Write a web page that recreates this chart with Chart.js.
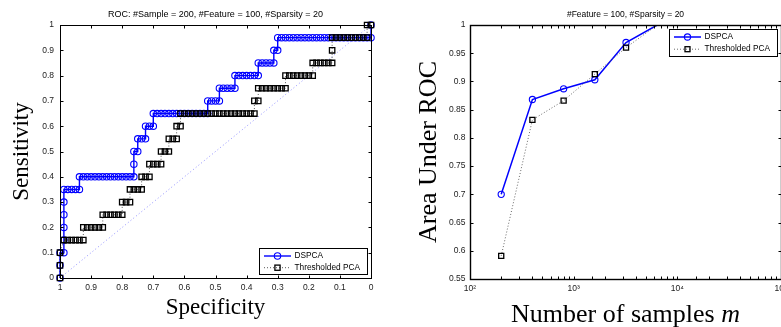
<!DOCTYPE html>
<html><head><meta charset="utf-8">
<script src="https://cdn.jsdelivr.net/npm/chart.js@4.4.1/dist/chart.umd.min.js"></script>
<style>
html,body{margin:0;padding:0;background:#fff;overflow:hidden;width:781px;height:327px;}
#a{position:absolute;left:0;top:0;width:390px;height:327px;}
#b{position:absolute;left:390px;top:0;width:430px;height:327px;}
</style></head><body>
<div id="a"><canvas id="c1" width="390" height="327"></canvas></div>
<div id="b"><canvas id="c2" width="430" height="327"></canvas></div>
<script>
// ---------- Left panel: ROC curves (sensitivity levels and the specificities visited at each level)
const dspcaLevels = [0,0.05,0.1,0.15,0.2,0.25,0.3,0.35,0.4,0.45,0.5,0.55,0.6,0.65,0.7,0.75,0.8,0.85,0.9,0.95,1];
const dspcaSpecs = [
  [1],[1],[1,0.9875],[0.9875],[0.9875],[0.9875],[0.9875],
  [0.9875,0.975,0.9625,0.95,0.9375],
  [0.9375,0.925,0.9125,0.9,0.8875,0.875,0.8625,0.85,0.8375,0.825,0.8125,0.8,0.7875,0.775,0.7625],
  [0.7625],[0.7625,0.75],[0.75,0.7375,0.725],[0.725,0.7125,0.7],
  [0.7,0.6875,0.675,0.6625,0.65,0.6375,0.625,0.6125,0.6,0.5875,0.575,0.5625,0.55,0.5375,0.525],
  [0.525,0.5125,0.5,0.4875],
  [0.4875,0.475,0.4625,0.45,0.4375],
  [0.4375,0.425,0.4125,0.4,0.3875,0.375,0.3625],
  [0.3625,0.35,0.3375,0.325,0.3125],
  [0.3125,0.3],
  [0.3,0.2875,0.275,0.2625,0.25,0.2375,0.225,0.2125,0.2,0.1875,0.175,0.1625,0.15,0.1375,0.125,0.1125,0.1,0.0875,0.075,0.0625,0.05,0.0375,0.025,0.0125,0],
  [0]
];
const tpcaLevels = [0,0.05,0.1,0.15,0.2,0.25,0.3,0.35,0.4,0.45,0.5,0.55,0.6,0.65,0.7,0.75,0.8,0.85,0.9,0.95,1];
const tpcaSpecs = [
  [1],[1],[1],
  [0.9875,0.975,0.9625,0.95,0.9375,0.925],
  [0.925,0.9125,0.9,0.8875,0.875,0.8625],
  [0.8625,0.85,0.8375,0.825,0.8125,0.8],
  [0.8,0.7875,0.775],
  [0.775,0.7625,0.75,0.7375],
  [0.7375,0.725,0.7125],
  [0.7125,0.7,0.6875,0.675],
  [0.675,0.6625,0.65],
  [0.65,0.6375,0.625],
  [0.625,0.6125],
  [0.6125,0.6,0.5875,0.575,0.5625,0.55,0.5375,0.525,0.5125,0.5,0.4875,0.475,0.4625,0.45,0.4375,0.425,0.4125,0.4,0.3875,0.375],
  [0.375,0.3625],
  [0.3625,0.35,0.3375,0.325,0.3125,0.3,0.2875,0.275],
  [0.275,0.2625,0.25,0.2375,0.225,0.2125,0.2,0.1875],
  [0.1875,0.175,0.1625,0.15,0.1375,0.125],
  [0.125],
  [0.125,0.1125,0.1,0.0875,0.075,0.0625,0.05,0.0375,0.025,0.0125],
  [0.0125,0]
];
const chanceSpec = [1,0];
const chanceSens = [0,1];

// ---------- Right panel: AUC vs number of samples
const sampleSizes = [200,400,800,1600,3200,6400];
const aucDSPCA = [0.700,0.868,0.887,0.903,0.969,1.0];
const aucTPCA  = [0.591,0.832,0.866,0.913,0.960,1.0];

const leftTitle = 'ROC: #Sample = 200, #Feature = 100, #Sparsity = 20';
const rightTitle = '#Feature = 100, #Sparsity = 20';

function stepPoints(levels, specs){
  const pts = [];
  levels.forEach((s,i)=>specs[i].forEach(x=>pts.push({x:x,y:s})));
  return pts;
}
function pairPoints(xs, ys){ return xs.map((x,i)=>({x:x,y:ys[i]})); }
const plainNum = v => String(parseFloat(Number(v).toFixed(4)));

Chart.defaults.font.family = '"Liberation Sans", Arial, sans-serif';
Chart.defaults.color = '#222';

const SANS = '"Liberation Sans", Arial, sans-serif';
const SERIF = '"Liberation Serif", "Times New Roman", serif';

const framePlugin = {
  id: 'frame',
  afterDatasetsDraw(chart, args, o) {
    const {ctx, chartArea: a} = chart;
    const xs = chart.scales.x, ys = chart.scales.y;
    const L = Math.round(a.left) + 0.5, R = Math.round(a.right) + 0.5;
    const T = Math.round(a.top) + 0.5, B = Math.round(a.bottom) + 0.5;
    ctx.save();
    ctx.strokeStyle = '#000';
    ctx.lineWidth = o.tickWidth;
    const tl = o.tickLen;
    ctx.beginPath();
    xs.ticks.forEach(t => {
      const p = Math.round(xs.getPixelForValue(t.value)) + 0.5;
      ctx.moveTo(p, B); ctx.lineTo(p, B - tl);
      ctx.moveTo(p, T); ctx.lineTo(p, T + tl);
    });
    ys.ticks.forEach(t => {
      const p = Math.round(ys.getPixelForValue(t.value)) + 0.5;
      ctx.moveTo(L, p); ctx.lineTo(L + tl, p);
      ctx.moveTo(R, p); ctx.lineTo(R - tl, p);
    });
    if (o.minorLog) {
      for (let d = Math.log10(xs.min); d < Math.log10(xs.max); d++) {
        for (let k = 2; k <= 9; k++) {
          const p = Math.round(xs.getPixelForValue(k * Math.pow(10, d))) + 0.5;
          ctx.moveTo(p, B); ctx.lineTo(p, B - o.minorLen);
          ctx.moveTo(p, T); ctx.lineTo(p, T + o.minorLen);
        }
      }
    }
    ctx.stroke();
    ctx.lineWidth = o.boxWidth;
    ctx.strokeRect(L, T, R - L, B - T);

    // legend
    const lg = o.legend;
    const bx = Math.round(a.right - lg.mr - lg.w) + 0.5;
    const by = Math.round(lg.corner === 'br' ? a.bottom - lg.mb - lg.h : a.top + lg.mt) + 0.5;
    ctx.fillStyle = '#fff';
    ctx.fillRect(bx, by, lg.w, lg.h);
    ctx.lineWidth = 1;
    ctx.strokeStyle = '#000';
    ctx.strokeRect(bx, by, lg.w, lg.h);
    lg.items.forEach((idx, i) => {
      const ds = chart.data.datasets[idx];
      const y = by + lg.row0 + i * lg.rowH;
      ctx.save();
      ctx.strokeStyle = ds.borderColor; ctx.lineWidth = ds.borderWidth;
      ctx.setLineDash(ds.borderDash || []);
      ctx.beginPath(); ctx.moveTo(bx + 4.5, y); ctx.lineTo(bx + 31.5, y); ctx.stroke();
      ctx.setLineDash([]);
      ctx.strokeStyle = ds.pointBorderColor; ctx.lineWidth = ds.pointBorderWidth;
      const mx = bx + 18;
      if (ds.pointStyle === 'circle') {
        ctx.beginPath(); ctx.arc(mx, y, lg.circleR, 0, Math.PI * 2); ctx.stroke();
      } else {
        ctx.strokeRect(mx - lg.sq / 2, y - lg.sq / 2, lg.sq, lg.sq);
      }
      ctx.fillStyle = '#000';
      ctx.font = lg.font;
      ctx.textBaseline = 'middle';
      ctx.textAlign = 'left';
      ctx.fillText(ds.label, bx + 35, y);
      ctx.restore();
    });

    if (o.xTitleParts) {
      ctx.fillStyle = '#000';
      ctx.textBaseline = 'alphabetic';
      ctx.textAlign = 'left';
      let total = 0;
      const ws = o.xTitleParts.map(p => { ctx.font = p.font; const w = ctx.measureText(p.text).width; total += w; return w; });
      let x = (a.left + a.right) / 2 - total / 2;
      o.xTitleParts.forEach((p, i) => { ctx.font = p.font; ctx.fillText(p.text, x, o.xTitleY); x += ws[i]; });
    }
    ctx.restore();
  }
};

// ---------------- Left chart
new Chart(document.getElementById('c1'), {
  type: 'scatter',
  data: {
    datasets: [
      {
        label: 'Thresholded PCA',
        data: stepPoints(tpcaLevels, tpcaSpecs),
        showLine: true,
        borderColor: 'rgba(60,60,60,0.85)', borderWidth: 1, borderDash: [1, 2],
        pointStyle: 'rect', pointRadius: 3.8, pointBorderColor: '#000', pointBorderWidth: 1.3,
        pointBackgroundColor: 'rgba(0,0,0,0)', backgroundColor: 'rgba(0,0,0,0)',
        order: 0, clip: false
      },
      {
        label: 'DSPCA',
        data: stepPoints(dspcaLevels, dspcaSpecs),
        showLine: true,
        borderColor: '#0000ff', borderWidth: 1.4,
        pointStyle: 'circle', pointRadius: 3.2, pointBorderColor: '#0000ff', pointBorderWidth: 1.1,
        pointBackgroundColor: 'rgba(0,0,0,0)', backgroundColor: 'rgba(0,0,0,0)',
        order: 1, clip: false
      },
      {
        label: 'chance',
        data: pairPoints(chanceSpec, chanceSens),
        showLine: true,
        borderColor: 'rgba(60,60,255,0.7)', borderWidth: 0.8, borderDash: [1, 2.5],
        pointRadius: 0,
        order: 2
      }
    ]
  },
  options: {
    responsive: false, animation: false, events: [],
    layout: { padding: { left: 0, right: 19, top: 0, bottom: 0 } },
    plugins: {
      legend: { display: false }, tooltip: { enabled: false },
      title: { display: true, text: leftTitle, fullSize: false, color: '#000',
               font: { family: SANS, size: 9, weight: 'normal', lineHeight: 1.2 },
               padding: { top: 9.2, bottom: 5 } },
      frame: {
        tickLen: 3, minorLen: 2, tickWidth: 1, boxWidth: 1,
        legend: { corner: 'br', w: 108, h: 26, mr: 4.5, mb: 4, row0: 7.5, rowH: 11.7,
                  circleR: 3.2, sq: 5.2, font: '8.3px ' + SANS, items: [1, 0] }
      }
    },
    scales: {
      x: {
        type: 'linear', reverse: true, min: 0, max: 1,
        ticks: { stepSize: 0.1, font: { size: 8.5 }, color: '#222', padding: 5, maxRotation: 0, autoSkip: false, callback: plainNum },
        grid: { display: false, drawTicks: false }, border: { display: false },
        title: { display: true, text: 'Specificity', color: '#000', font: { family: SERIF, size: 23, lineHeight: 1.2 }, padding: { top: 0, bottom: 5 } },
        afterFit: s => { s.height = 49; }
      },
      y: {
        min: 0, max: 1,
        ticks: { stepSize: 0.1, font: { size: 8.5 }, color: '#222', padding: 6, autoSkip: false, callback: plainNum },
        grid: { display: false, drawTicks: false }, border: { display: false },
        title: { display: true, text: 'Sensitivity', color: '#000', font: { family: SERIF, size: 23, lineHeight: 1.2 }, padding: { top: 8.4, bottom: 0 } },
        afterFit: s => { s.width = 60; }
      }
    }
  },
  plugins: [framePlugin]
});

// ---------------- Right chart
const sup = {2: '\u00B2', 3: '\u00B3', 4: '\u2074', 5: '\u2075'};
new Chart(document.getElementById('c2'), {
  type: 'scatter',
  data: {
    datasets: [
      {
        label: 'Thresholded PCA',
        data: pairPoints(sampleSizes, aucTPCA),
        showLine: true,
        borderColor: 'rgba(90,90,90,0.9)', borderWidth: 1, borderDash: [1, 2],
        pointStyle: 'rect', pointRadius: c => (c.raw && c.raw.y >= 1 ? 0 : 3.6),
        pointBorderColor: '#000', pointBorderWidth: 1.3,
        pointBackgroundColor: 'rgba(0,0,0,0)', backgroundColor: 'rgba(0,0,0,0)',
        order: 0
      },
      {
        label: 'DSPCA',
        data: pairPoints(sampleSizes, aucDSPCA),
        showLine: true,
        borderColor: '#0000ff', borderWidth: 1.5,
        pointStyle: 'circle', pointRadius: c => (c.raw && c.raw.y >= 1 ? 0 : 3.1),
        pointBorderColor: '#0000ff', pointBorderWidth: 1.1,
        pointBackgroundColor: 'rgba(0,0,0,0)', backgroundColor: 'rgba(0,0,0,0)',
        order: 1
      }
    ]
  },
  options: {
    responsive: false, animation: false, events: [],
    layout: { padding: { left: 0, right: 39, top: 0, bottom: 0 } },
    plugins: {
      legend: { display: false }, tooltip: { enabled: false },
      title: { display: true, text: rightTitle, fullSize: false, color: '#000',
               font: { family: SANS, size: 8.5, weight: 'normal', lineHeight: 1.2 },
               padding: { top: 9.8, bottom: 5 } },
      frame: {
        tickLen: 3, minorLen: 2, tickWidth: 1, boxWidth: 1.4, minorLog: true,
        legend: { corner: 'tr', w: 108, h: 27, mr: 4.5, mt: 4.3, row0: 7.5, rowH: 12.2,
                  circleR: 3.1, sq: 5, font: '8.3px ' + SANS, items: [1, 0] },
        xTitleParts: [
          { text: 'Number of samples ', font: '26px ' + SERIF },
          { text: 'm', font: 'italic 26px ' + SERIF }
        ],
        xTitleY: 322
      }
    },
    scales: {
      x: {
        type: 'logarithmic', min: 100, max: 100000,
        ticks: { font: { size: 8.5 }, color: '#222', padding: 5, maxRotation: 0, autoSkip: false,
                 callback: v => { const l = Math.log10(v); return Math.abs(l - Math.round(l)) < 1e-9 ? '10' + sup[Math.round(l)] : ''; } },
        grid: { display: false, drawTicks: false }, border: { display: false },
        afterFit: s => { s.height = 48; }
      },
      y: {
        min: 0.55, max: 1,
        ticks: { stepSize: 0.05, font: { size: 8.5 }, color: '#222', padding: 4.5, autoSkip: false, callback: plainNum },
        grid: { display: false, drawTicks: false }, border: { display: false },
        title: { display: true, text: 'Area Under ROC', color: '#000', font: { family: SERIF, size: 26, lineHeight: 1.2 }, padding: { top: 24, bottom: 0 } },
        afterFit: s => { s.width = 80; }
      }
    }
  },
  plugins: [framePlugin]
});
</script>
</body></html>
